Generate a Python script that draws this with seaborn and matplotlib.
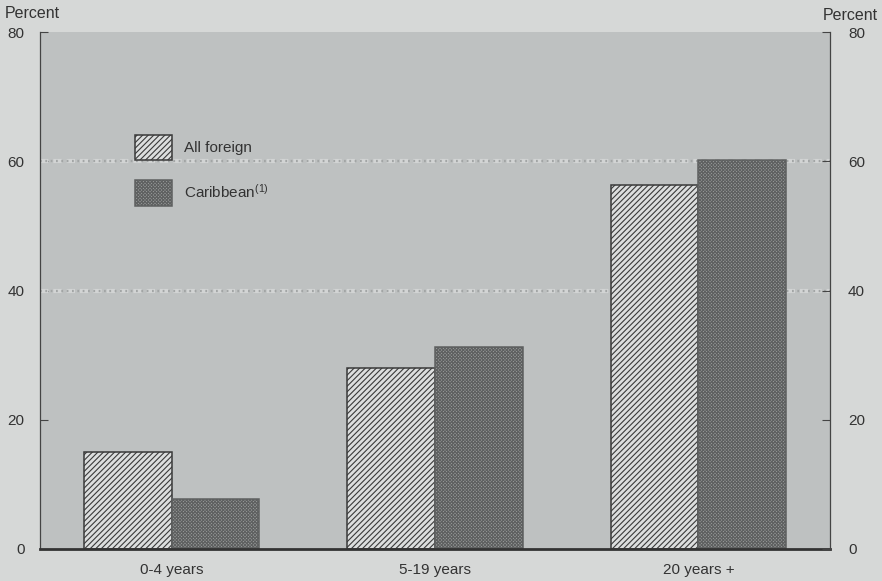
import matplotlib
matplotlib.use("Agg")
import matplotlib.pyplot as plt
import seaborn as sns
import pandas as pd
from matplotlib.patches import Patch

categories = ["0-4 years", "5-19 years", "20 years +"]
all_foreign = [15.0, 28.0, 56.3]
caribbean = [7.8, 31.3, 60.2]
series_names = ["All foreign", "Caribbean$^{(1)}$"]
yticks = [0, 20, 40, 60, 80]

df = pd.DataFrame({
    "cat": categories * 2,
    "val": all_foreign + caribbean,
    "series": [series_names[0]] * 3 + [series_names[1]] * 3,
})

sns.set_theme(style="white")
plt.rcParams["font.family"] = ["Liberation Sans", "DejaVu Sans"]
plt.rcParams["mathtext.fontset"] = "custom"
plt.rcParams["mathtext.rm"] = "Liberation Sans"
plt.rcParams["mathtext.it"] = "Liberation Sans"
plt.rcParams["mathtext.default"] = "regular"
plt.rcParams["hatch.linewidth"] = 0.8

fig = plt.figure(figsize=(8.82, 5.81), dpi=100)
fig.patch.set_facecolor("#d6d8d7")
ax = fig.add_axes([40 / 882, 32 / 581, 790 / 882, 517 / 581])
ax.set_facecolor("#bec1c1")

sns.barplot(data=df, x="cat", y="val", hue="series", ax=ax, width=0.667,
            palette=["#dcdede", "#9a9c9c"], legend=False, zorder=3)

hatches = ["//////", "xxxxxxxxxx"]
edgecols = ["#3a3a3a", "#5e6060"]
for i, cont in enumerate(ax.containers):
    for p in cont:
        p.set_hatch(hatches[i])
        p.set_edgecolor(edgecols[i])
        p.set_linewidth(1.1)

for gy in [40, 60]:
    ax.axhline(gy, color="#d2d4d4", lw=3.0, ls=(0, (2.0, 1.2)), zorder=1)
    ax.axhline(gy, color="#a2a5a5", lw=1.6, ls=(0, (0.8, 1.6)), zorder=1.1)

ax.set_ylim(0, 80)
ax.set_xlim(-0.5, 2.5)
ax.set_yticks(yticks)
ax.set_xlabel("")
ax.set_ylabel("")
ax.tick_params(axis="y", direction="in", length=6, width=0.8, color="#444",
               labelsize=11, labelcolor="#333", pad=11)
ax.tick_params(axis="x", length=0, labelsize=11, labelcolor="#333", pad=10)
ax.spines["top"].set_visible(False)
ax.spines["right"].set_visible(False)
ax.spines["left"].set_color("#444")
ax.spines["left"].set_linewidth(0.9)
ax.spines["bottom"].set_color("#333")
ax.spines["bottom"].set_linewidth(2.0)
ax.spines["bottom"].set_zorder(5)

ax2 = ax.twinx()
ax2.set_ylim(0, 80)
ax2.set_yticks(yticks)
ax2.tick_params(axis="y", direction="in", length=6, width=0.8, color="#444",
                labelsize=11, labelcolor="#333", pad=13)
for s in ["top", "left", "bottom"]:
    ax2.spines[s].set_visible(False)
ax2.spines["right"].set_color("#444")
ax2.spines["right"].set_linewidth(0.9)

handles = [Patch(facecolor="#dcdede", edgecolor="#3a3a3a", hatch="//////", lw=1.1),
           Patch(facecolor="#9a9c9c", edgecolor="#5e6060", hatch="xxxxxxxxxx", lw=1.1)]
leg = ax.legend(handles, series_names, loc="upper left",
                bbox_to_anchor=(0.120, 0.801), frameon=False, fontsize=11,
                handlelength=2.45, handleheight=2.2, labelspacing=1.3,
                handletextpad=0.75, borderpad=0, borderaxespad=0)
for t in leg.get_texts():
    t.set_color("#333")

fig.text(5 / 882, 1 - 13 / 581, "Percent", fontsize=11.5, color="#333",
         ha="left", va="center")
fig.text(878 / 882, 1 - 16 / 581, "Percent", fontsize=11.5, color="#333",
         ha="right", va="center")

fig.savefig("out.png", dpi=100, facecolor=fig.get_facecolor())
